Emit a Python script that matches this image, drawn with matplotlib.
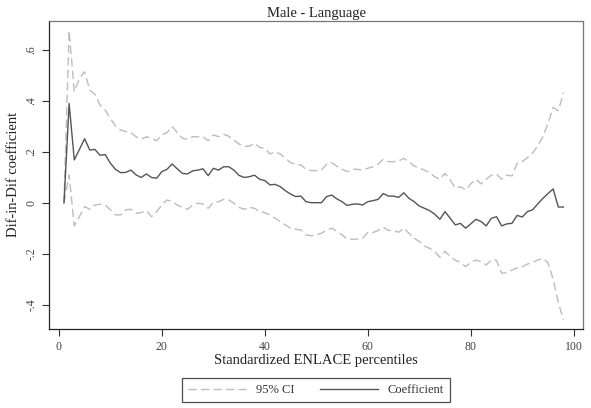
import matplotlib
matplotlib.use('Agg')
import matplotlib.pyplot as plt

plt.rcParams['font.family'] = ['Liberation Serif', 'DejaVu Serif']

# ---- data ----
percentiles = list(range(1, 99))

coef = [0.0, 0.39, 0.169, 0.21, 0.252, 0.208, 0.21, 0.187, 0.19, 0.156,
        0.132, 0.119, 0.12, 0.129, 0.11, 0.10, 0.114, 0.10, 0.097, 0.123,
        0.132, 0.153, 0.134, 0.116, 0.114, 0.126, 0.129, 0.134, 0.107, 0.136,
        0.129, 0.142, 0.142, 0.129, 0.108, 0.100, 0.103, 0.109, 0.093, 0.088,
        0.071, 0.073, 0.064, 0.048, 0.035, 0.025, 0.027, 0.005, 0.001, 0.001,
        0.001, 0.025, 0.031, 0.016, 0.005, -0.010, -0.005, -0.004, -0.008, 0.005,
        0.009, 0.014, 0.037, 0.027, 0.027, 0.022, 0.040, 0.018, 0.005, -0.012,
        -0.021, -0.030, -0.044, -0.064, -0.034, -0.060, -0.086, -0.080, -0.099, -0.082,
        -0.064, -0.073, -0.090, -0.060, -0.054, -0.090, -0.082, -0.080, -0.049, -0.055,
        -0.034, -0.027, -0.004, 0.018, 0.037, 0.055, -0.016, -0.016]

ci_upper = [0.0, 0.676, 0.437, 0.489, 0.515, 0.443, 0.427, 0.384, 0.365, 0.332,
            0.302, 0.286, 0.28, 0.276, 0.26, 0.25, 0.26, 0.254, 0.244, 0.267,
            0.276, 0.30, 0.276, 0.254, 0.25, 0.26, 0.26, 0.26, 0.244, 0.267,
            0.26, 0.27, 0.262, 0.246, 0.231, 0.222, 0.223, 0.234, 0.218, 0.214,
            0.192, 0.201, 0.192, 0.175, 0.158, 0.152, 0.149, 0.132, 0.127, 0.127,
            0.129, 0.152, 0.158, 0.144, 0.132, 0.123, 0.132, 0.132, 0.129, 0.136,
            0.142, 0.152, 0.171, 0.162, 0.162, 0.165, 0.175, 0.162, 0.145, 0.136,
            0.129, 0.119, 0.103, 0.093, 0.116, 0.09, 0.058, 0.064, 0.051, 0.075,
            0.093, 0.075, 0.093, 0.109, 0.113, 0.093, 0.109, 0.106, 0.155, 0.162,
            0.178, 0.195, 0.224, 0.26, 0.312, 0.375, 0.362, 0.433]

ci_lower = [0.0, 0.11, -0.09, -0.054, -0.014, -0.025, -0.008, -0.005, -0.008, -0.027,
            -0.047, -0.047, -0.027, -0.025, -0.04, -0.038, -0.03, -0.054, -0.034, -0.008,
            0.012, 0.005, -0.008, -0.017, -0.025, -0.008, -0.001, -0.004, -0.021, 0.002,
            0.005, 0.014, 0.012, -0.001, -0.017, -0.025, -0.017, -0.021, -0.034, -0.038,
            -0.047, -0.06, -0.073, -0.086, -0.099, -0.103, -0.106, -0.125, -0.129, -0.125,
            -0.119, -0.106, -0.099, -0.111, -0.125, -0.142, -0.142, -0.142, -0.138, -0.116,
            -0.116, -0.108, -0.095, -0.108, -0.108, -0.115, -0.099, -0.119, -0.138, -0.151,
            -0.169, -0.178, -0.19, -0.213, -0.19, -0.21, -0.225, -0.233, -0.25, -0.233,
            -0.224, -0.23, -0.243, -0.224, -0.225, -0.276, -0.273, -0.263, -0.255, -0.25,
            -0.24, -0.233, -0.224, -0.217, -0.235, -0.30, -0.39, -0.459]

xticks = [0, 20, 40, 60, 80, 100]
yticks = [-0.4, -0.2, 0, 0.2, 0.4, 0.6]
ytick_labels = ['-.4', '-.2', '0', '.2', '.4', '.6']

# ---- figure ----
fig = plt.figure(figsize=(5.91, 4.08), dpi=100)
fig.patch.set_facecolor('white')
ax = fig.add_axes([0.083, 0.194, 0.9035, 0.7545])

ci_line, = ax.plot(percentiles, ci_upper, color='#bdbdbd', linewidth=1.0,
                   dashes=(6, 3), label='95% CI')
ax.plot(percentiles, ci_lower, color='#bdbdbd', linewidth=1.0, dashes=(6, 3))
coef_line, = ax.plot(percentiles, coef, color='#555555', linewidth=1.0,
                     label='Coefficient')

ax.set_xlim(-1.9, 101.8)
ax.set_ylim(-0.494, 0.714)
ax.set_xticks(xticks)
ax.set_yticks(yticks)
ax.set_yticklabels(ytick_labels, rotation=90, va='center')
ax.tick_params(direction='out', length=5, width=0.8, labelsize=8.5,
               colors='#333333', labelcolor='#444444')

for side in ['left', 'bottom']:
    ax.spines[side].set_color('#222222')
    ax.spines[side].set_linewidth(0.9)
for side in ['top', 'right']:
    ax.spines[side].set_color('#777777')
    ax.spines[side].set_linewidth(0.9)

ax.set_title('Male - Language', fontsize=10.5, color='#222222', pad=3)
ax.set_xlabel('Standardized ENLACE percentiles', fontsize=10.5, color='#222222', labelpad=1)
ax.set_ylabel('Dif-in-Dif coefficient', fontsize=10.5, color='#222222', labelpad=4)

leg = fig.legend(handles=[ci_line, coef_line], loc='upper center',
                 bbox_to_anchor=(316 / 591, 1 - 372 / 408), ncol=2,
                 fontsize=9, frameon=True, fancybox=False, handlelength=4.6,
                 columnspacing=2.1, handletextpad=0.8, borderpad=0.45)
leg.get_frame().set_edgecolor('#222222')
leg.get_frame().set_linewidth(0.9)
for t in leg.get_texts():
    t.set_color('#333333')

plt.savefig('out.png', dpi=100, facecolor='white')
plt.close()
